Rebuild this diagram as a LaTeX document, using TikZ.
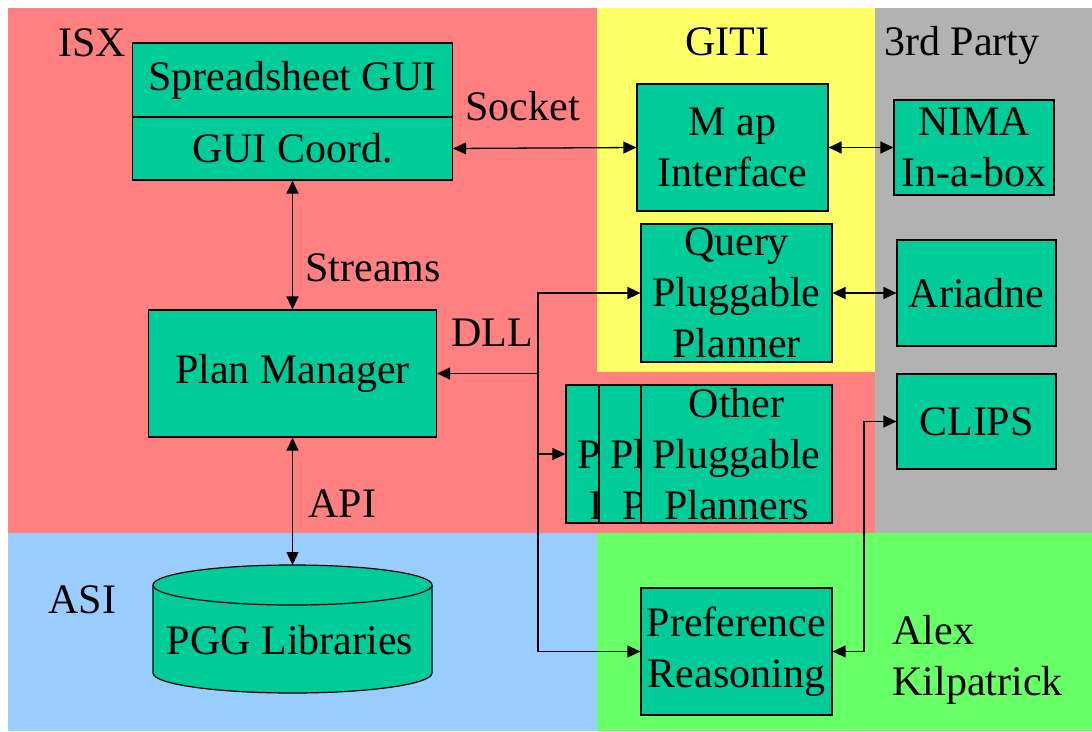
\documentclass[tikz,border=0pt]{standalone}
\usepackage{fontspec}
\setmainfont{Liberation Serif}
\usetikzlibrary{arrows.meta}

\definecolor{isxred}{RGB}{255,128,128}
\definecolor{gitiyellow}{RGB}{255,255,102}
\definecolor{partygray}{RGB}{178,178,178}
\definecolor{asiblue}{RGB}{153,204,255}
\definecolor{alexgreen}{RGB}{102,255,102}
\definecolor{boxgreen}{RGB}{0,204,153}

\begin{document}
\begin{tikzpicture}[x=1pt,y=-1pt,
    every node/.style={font=\fontsize{42}{51}\selectfont},
    box/.style={draw, fill=boxgreen, line width=1.2pt, inner sep=0pt, align=center},
    backbox/.style={box, align=left, text width=191pt, minimum height=138pt},
    link/.style={line width=1.3pt, -{Triangle[length=13pt,width=12pt]}},
    both/.style={line width=1.3pt, {Triangle[length=13pt,width=12pt]}-{Triangle[length=13pt,width=12pt]}}]
    % page and coloured areas
    \useasboundingbox (0,0) rectangle (1092,731);
    \fill[isxred] (8,8) rectangle (875,533);
    \fill[gitiyellow] (597,8) rectangle (875,372);
    \fill[partygray] (875,8) rectangle (1092,533);
    \fill[asiblue] (8,533) rectangle (597,731);
    \fill[alexgreen] (597,533) rectangle (1092,731);

    % area labels
    \node (isx) at (55,56) [anchor=base west] {ISX};
    \node (giti) at (727,55) [anchor=base] {GITI};
    \node (party) at (962,55) [anchor=base] {3rd Party};
    \node (asi) at (45,613) [anchor=base west] {ASI};
    \node (alex) at (889,695) [anchor=base west, align=left] {Alex\\Kilpatrick};

    % ISX boxes
    \node[box, minimum width=320pt, minimum height=74pt] (sheet) at (292.5,80) {Spreadsheet GUI};
    \node[box, minimum width=320pt, minimum height=63pt] (coord) at (292.5,148.5) {GUI Coord.};
    \node[box, minimum width=288pt, minimum height=127pt] (pm) at (292.5,373.5) {Plan Manager};

    % GITI and 3rd party boxes
    \node[box, minimum width=191pt, minimum height=127pt] (map) at (732.5,147.5) {M ap\\Interface};
    \node[box, minimum width=160pt, minimum height=95pt] (nima) at (974,147.5) {NIMA\\In-a-box};
    \node[box, minimum width=191pt, minimum height=138pt] (query) at (736.5,293) {Query\\Pluggable\\Planner};
    \node[box, minimum width=159pt, minimum height=106pt] (ariadne) at (976.5,293) {Ariadne};
    \node[box, minimum width=159pt, minimum height=95pt] (clips) at (976.5,421.5) {CLIPS};

    % stack of other planners (back ones mostly hidden)
    \node[backbox] (other1) at (661.5,454) {\vphantom{Other}\\\hspace*{11pt}P\\\hspace*{23pt}P};
    \node[backbox] (other2) at (694.5,454) {\vphantom{Other}\\\hspace*{11pt}Pl\\\hspace*{23pt}P};
    \node[box, minimum width=191pt, minimum height=138pt] (other3) at (736.5,454) {Other\\Pluggable\\Planners};

    \node[box, minimum width=191pt, minimum height=127pt] (pref) at (736.5,651.5) {Preference\\Reasoning};

    % database cylinder
    \filldraw[fill=boxgreen, line width=1.2pt] (153,585) -- (153,673)
      arc[start angle=180, end angle=360, x radius=139.5pt, y radius=20pt] -- (432,585)
      arc[start angle=0, end angle=180, x radius=139.5pt, y radius=20pt] -- cycle;
    \draw[line width=1.2pt] (153,585) arc[start angle=180, end angle=360, x radius=139.5pt, y radius=20pt];
    \node (pgg) at (290,654) [anchor=base] {PGG Libraries};
    \coordinate (pggtop) at (292.5,565);

    % connector labels
    \node (socket) at (462,120) [anchor=base west] {Socket};
    \node (streams) at (302,281) [anchor=base west] {Streams};
    \node (dll) at (448,346) [anchor=base west] {DLL};
    \node (api) at (305,517) [anchor=base west] {API};

    % connectors
    \draw[both] (coord.east) -- (map.west);
    \draw[both] (map.east) -- (nima.west);
    \draw[both] (query.east) -- (ariadne.west);
    \draw[both] (coord.south) -- (pm.north);
    \draw[both] (pm.south) -- (pggtop);

    % DLL bus
    \coordinate (bus) at (538,373.5);
    \draw[link] (bus) -- (pm.east);
    \draw[link] (bus) |- (query.west);
    \draw[link] (bus) |- (other1.west);
    \draw[link] (bus) |- (pref.west);

    % CLIPS to preference reasoning
    \coordinate (bend) at (864,421.5);
    \draw[both] (pref.east) -| (bend) -- (clips.west);
\end{tikzpicture}
\end{document}
